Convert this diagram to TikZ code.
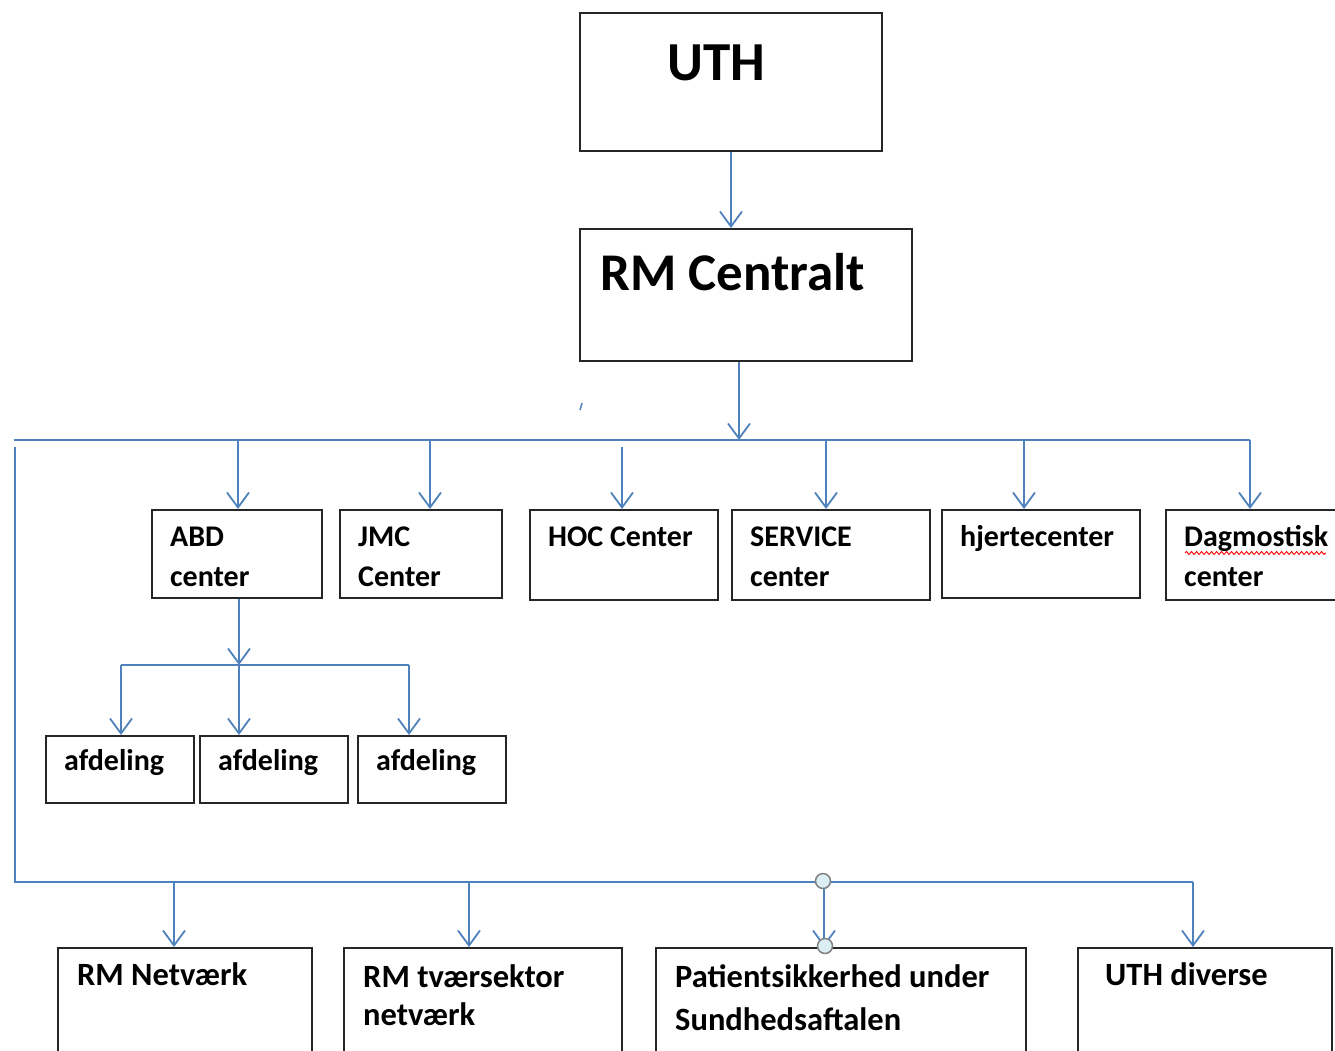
\documentclass[tikz,border=0pt]{standalone}
\usepackage{fontspec}
\setmainfont{Carlito}
\usetikzlibrary{arrows.meta,decorations.pathmorphing}
\definecolor{conn}{RGB}{79,129,189}
\definecolor{handle}{RGB}{218,238,243}
\tikzset{
  box/.style={draw=black!85, line width=2pt, rectangle, inner sep=0pt, anchor=north west},
  lbl/.style={anchor=base west, inner sep=0pt, align=left, font=\fontsize{30}{40}\selectfont\bfseries},
  blbl/.style={anchor=base west, inner sep=0pt, align=left, font=\fontsize{32.5}{39}\selectfont\bfseries},
  big/.style={anchor=base west, inner sep=0pt, font=\fontsize{55}{60}\selectfont\bfseries},
  conn/.style={draw=conn, line width=1.8pt},
  arr/.style={conn, -{Straight Barb[length=15pt,width=22pt,line width=1.8pt]}},
  hnd/.style={circle, draw=gray, fill=handle, line width=1.5pt, minimum size=15pt, inner sep=0pt}
}
\begin{document}
\begin{tikzpicture}[x=1pt,y=-1pt]
\useasboundingbox (0,0) rectangle (1335,1050);
\clip (0,0) rectangle (1335,1050);
% top boxes
\node[box, minimum width=302pt, minimum height=138pt] (uth) at (579,12) {};
\node[big] (uthT) at (667,80) {UTH};
\node[box, minimum width=332pt, minimum height=132pt] (rm) at (579,228) {};
\node[big, font=\fontsize{53}{60}\selectfont\bfseries] (rmT) at (600,290) {RM Centralt};
% stray mark
\draw[conn, line width=1.5pt] (582,403) -- (580,410);
% bus coordinates
\coordinate (busL) at (14,440);
\coordinate (busR) at (1250,440);
\coordinate (rmBus) at (739,440);
\coordinate (vTop) at (15,447);
\coordinate (vBot) at (15,882);
\coordinate (bbR) at (1193,882);
% row 2 boxes (multi-line labels: base = last line)
\node[box, minimum width=170pt, minimum height=88pt] (abd) at (151,509) {};
\node[lbl] (abdT) at (170,586) {ABD\\center};
\node[box, minimum width=162pt, minimum height=88pt] (jmc) at (339,509) {};
\node[lbl] (jmcT) at (358,586) {JMC\\Center};
\node[box, minimum width=188pt, minimum height=90pt] (hoc) at (529,509) {};
\node[lbl] (hocT) at (548,546) {HOC Center};
\node[box, minimum width=198pt, minimum height=90pt] (srv) at (731,509) {};
\node[lbl] (srvT) at (750,586) {SERVICE\\center};
\node[box, minimum width=198pt, minimum height=88pt] (hjc) at (941,509) {};
\node[lbl] (hjcT) at (960,546) {hjertecenter};
\node[box, minimum width=200pt, minimum height=90pt] (dag) at (1165,509) {};
\node[lbl] (dagT) at (1184,586) {Dagmostisk\\center};
\draw[red, line width=0.9pt, decorate, decoration={snake, amplitude=1.5pt, segment length=5pt}] (1185,553) -- (1326,553);
% afdeling boxes
\node[box, minimum width=148pt, minimum height=67pt] (af1) at (45,735) {};
\node[lbl] (af1T) at (64,770) {afdeling};
\node[box, minimum width=148pt, minimum height=67pt] (af2) at (199,735) {};
\node[lbl] (af2T) at (218,770) {afdeling};
\node[box, minimum width=148pt, minimum height=67pt] (af3) at (357,735) {};
\node[lbl] (af3T) at (376,770) {afdeling};
% bottom boxes
\node[box, minimum width=254pt, minimum height=130pt] (net) at (57,947) {};
\node[blbl] (netT) at (77,985) {RM Netværk};
\node[box, minimum width=278pt, minimum height=130pt] (tvs) at (343,947) {};
\node[blbl, font=\fontsize{32.5}{38}\selectfont\bfseries] (tvsT) at (363,1025) {RM tværsektor\\netværk};
\node[box, minimum width=370pt, minimum height=130pt] (pat) at (655,947) {};
\node[blbl, font=\fontsize{32.5}{43}\selectfont\bfseries] (patT) at (675,1030) {Patientsikkerhed under\\Sundhedsaftalen};
\node[box, minimum width=254pt, minimum height=130pt] (uthd) at (1077,947) {};
\node[blbl] (uthdT) at (1105,985) {UTH diverse};
% connectors top
\draw[arr] (uth.south -| 731,0) -- (rm.north -| 731,0);
\draw[arr] (rm.south -| rmBus) -- (rmBus);
\draw[conn] (busL) -- (busR);
\draw[arr] (busR) -- (dag.north -| busR);
\draw[arr] (238,440) -- (abd.north -| 238,0);
\draw[arr] (430,440) -- (jmc.north -| 430,0);
\draw[arr] (622,447) -- (hoc.north -| 622,0);
\draw[arr] (826,440) -- (srv.north -| 826,0);
\draw[arr] (1024,440) -- (hjc.north -| 1024,0);
% ABD sub
\coordinate (abdBus) at (239,665);
\draw[arr] (abd.south -| abdBus) -- (abdBus);
\draw[conn] (121,665) -- (409,665);
\draw[arr] (121,665) -- (af1.north -| 121,0);
\draw[arr] (239,665) -- (af2.north -| 239,0);
\draw[arr] (409,665) -- (af3.north -| 409,0);
% bottom bus
\draw[conn] (vTop) -- (vBot) -- (bbR);
\draw[arr] (bbR) -- (uthd.north -| bbR);
\draw[arr] (174,882) -- (net.north -| 174,0);
\draw[arr] (469,882) -- (tvs.north -| 469,0);
\draw[arr] (824,882) -- (pat.north -| 824,0);
\node[hnd] (h1) at (823,881) {};
\node[hnd] (h2) at (825,946) {};
\end{tikzpicture}
\end{document}
